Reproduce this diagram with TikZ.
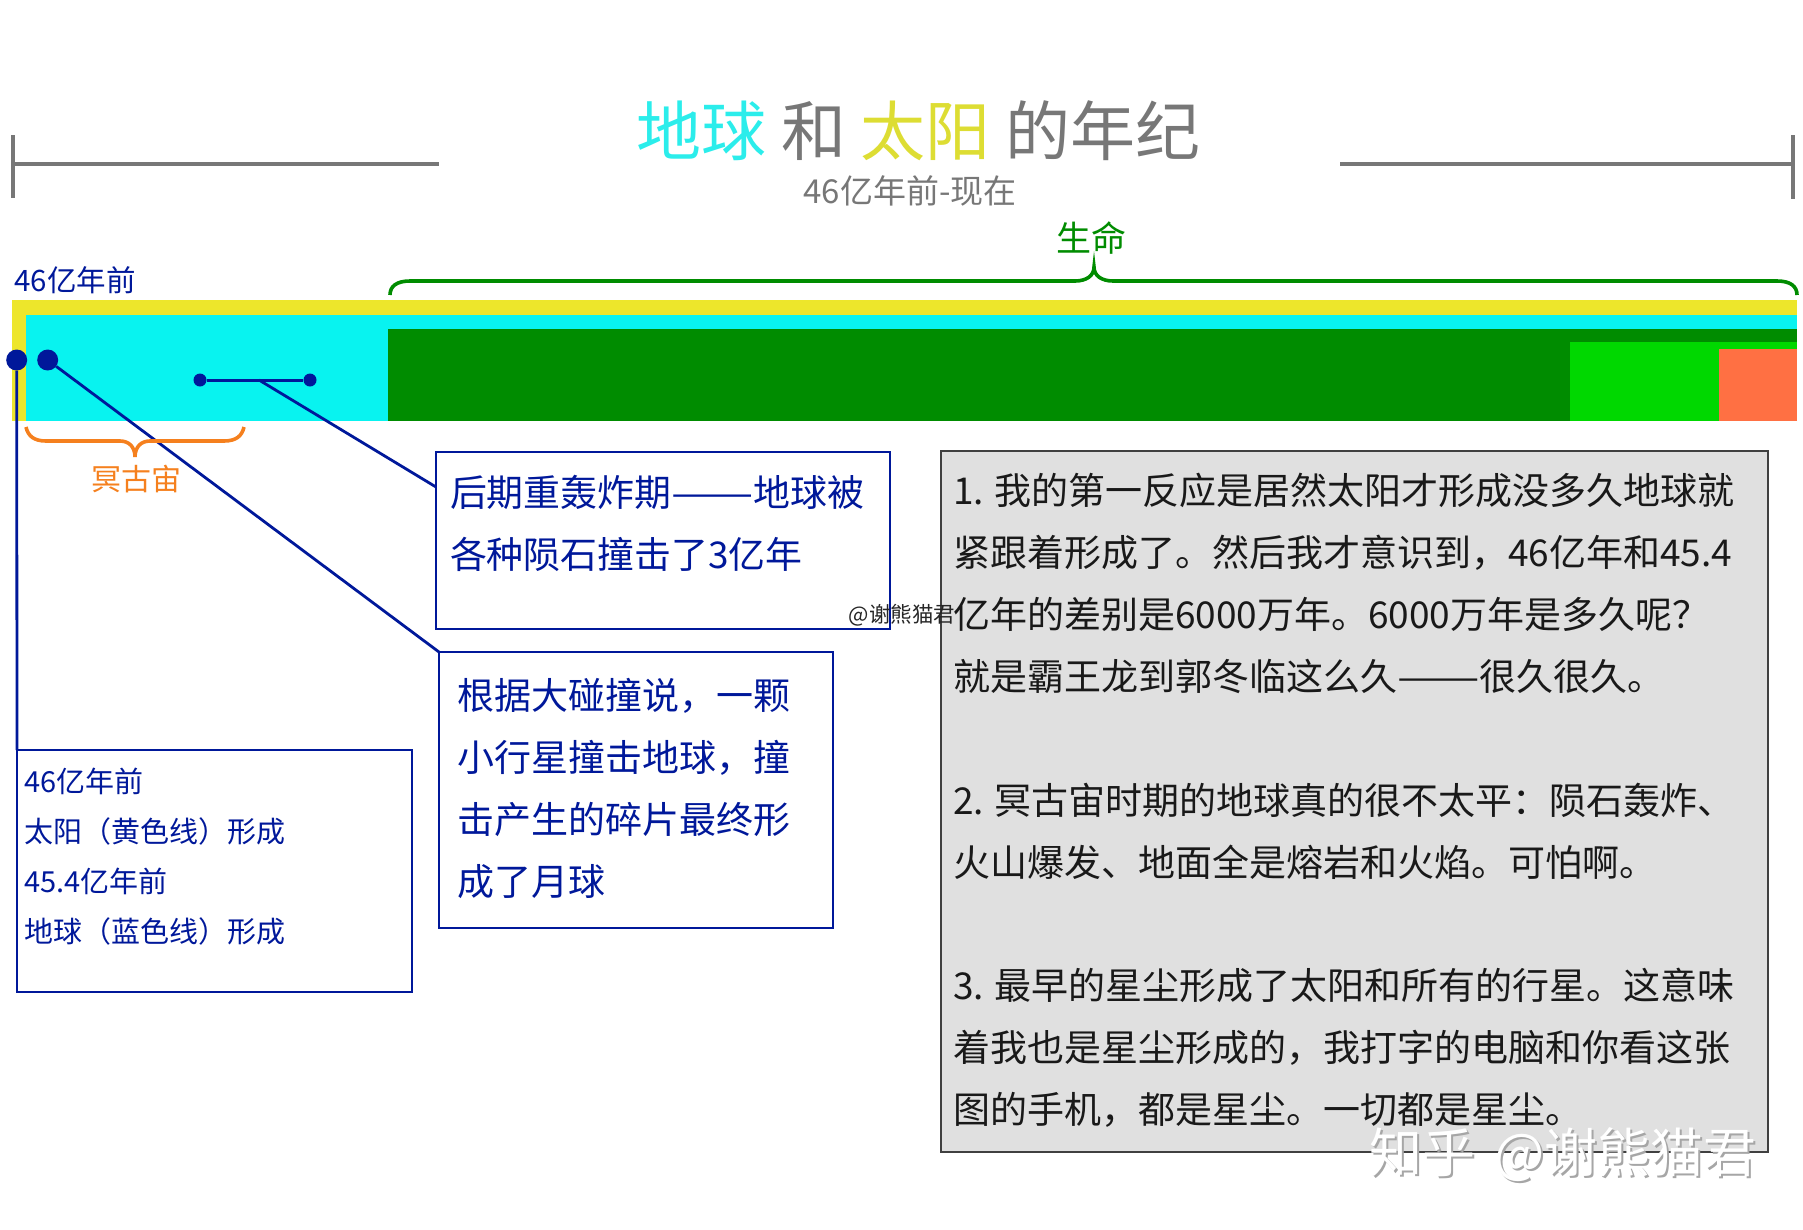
\documentclass[tikz,border=0pt]{standalone}
\usepackage{xcolor}
\usepackage{graphicx}
\usepackage{fontspec}
\setmainfont{Noto Sans CJK SC}
\definecolor{barYellow}{HTML}{EDE62B}
\definecolor{barCyan}{HTML}{08F3F0}
\definecolor{barGreen}{HTML}{008C00}
\definecolor{barLime}{HTML}{00D800}
\definecolor{barOrange}{HTML}{FF7043}
\definecolor{noteBlue}{HTML}{00189A}
\definecolor{braceOrange}{HTML}{F5801E}
\definecolor{ruleGray}{HTML}{777777}
\definecolor{titleCyan}{HTML}{2BEDEB}
\definecolor{titleYellow}{HTML}{DDDD33}
\definecolor{panelGray}{HTML}{E0E0E0}
\newcommand{\Fsize}[2]{\fontsize{#1}{#2}\selectfont}
\newcommand{\Ldash}{\scalebox{1.33}[1]{——}}
\newcommand{\Wmark}{知乎\hspace{8pt} @谢熊猫君}
\tikzset{
  notebox/.style={draw=noteBlue, line width=1.2pt, text=noteBlue, anchor=north west, align=left, outer sep=0pt, inner ysep=0pt},
  bigdot/.style={circle, fill=noteBlue, inner sep=0pt, minimum size=21pt},
  smalldot/.style={circle, fill=noteBlue, inner sep=0pt, minimum size=13pt},
  leader/.style={draw=noteBlue, line width=2.8pt},
  grayrule/.style={draw=ruleGray, line width=4.5pt},
}
\begin{document}
\begin{tikzpicture}[x=1pt, y=-1pt]
\useasboundingbox (0,0) rectangle (1803,1229);

% header
\node[font=\Fsize{65}{70}] (titleText) at (918.5,131) {\textcolor{titleCyan}{地球} \textcolor{ruleGray}{和} \textcolor{titleYellow}{太阳} \textcolor{ruleGray}{的年纪}};
\node[text=ruleGray, font=\Fsize{33}{36}] (subText) at (910,191) {46亿年前-现在};
\draw[grayrule] (13,135) -- (13,198);
\draw[grayrule] (13,164) -- (439,164);
\draw[grayrule] (1793,135) -- (1793,199);
\draw[grayrule] (1340,164) -- (1793,164);

% time bars
\fill[barYellow] (12,300) rectangle (1797,421);
\fill[barCyan] (26,315) rectangle (1797,421);
\fill[barGreen] (388,329) rectangle (1797,421);
\fill[barLime] (1570,342) rectangle (1797,421);
\fill[barOrange] (1719,349) rectangle (1797,421);

% notes
\node[notebox, font=\Fsize{36.9}{62}, inner xsep=14pt, text width=426pt, text height=54pt, text depth=123pt] (boxLate) at (436,452) {后期重轰炸期\Ldash 地球被\\各种陨石撞击了3亿年};
\node[notebox, font=\Fsize{37}{62}, inner xsep=18pt, text width=358pt, text height=57pt, text depth=219pt] (boxMoon) at (439,652) {根据大碰撞说，一颗\\小行星撞击地球，撞\\击产生的碎片最终形\\成了月球};
\node[notebox, font=\Fsize{29}{50}, inner xsep=7pt, text width=381pt, text height=42pt, text depth=200pt] (boxAge) at (17,750) {46亿年前\\太阳（黄色线）形成\\45.4亿年前\\地球（蓝色线）形成};
\node[draw=black!75, fill=panelGray, line width=1.6pt, text=black!90, font=\Fsize{37}{62}, anchor=north west, align=left, outer sep=0pt, inner ysep=0pt, inner xsep=12pt, text width=803pt, text height=53pt, text depth=648pt] (boxText) at (941,451) {1.\hspace{10.5pt}我的第一反应是居然太阳才形成没多久地球就\\紧跟着形成了。然后我才意识到，46亿年和45.4\\亿年的差别是6000万年。6000万年是多久呢？\\就是霸王龙到郭冬临这么久\Ldash 很久很久。\\[62pt]2.\hspace{10.5pt}冥古宙时期的地球真的很不太平：陨石轰炸、\\火山爆发、地面全是熔岩和火焰。可怕啊。\\[61pt]3.\hspace{10.5pt}最早的星尘形成了太阳和所有的行星。这意味\\着我也是星尘形成的，我打字的电脑和你看这张\\图的手机，都是星尘。一切都是星尘。};

% markers
\node[bigdot] (dotSun) at (16.7,360) {};
\node[bigdot] (dotEarth) at (47.7,360) {};
\node[smalldot] (dotBegin) at (200,380) {};
\node[smalldot] (dotEnd) at (310,380) {};
\coordinate (dotMid) at (259,380);
\coordinate (lateEnd) at (436,487);
\draw[leader] (dotSun) -- (boxAge.north west);
\draw[leader] (dotEarth) -- (boxMoon.north west);
\draw[leader, line width=3pt] (dotBegin) -- (dotEnd);
\draw[leader] (dotMid) -- (lateEnd);

% braces
\draw[barGreen, line width=3.6pt] (390,295) .. controls (390,286) and (397,281) .. (410,281) -- (1075,281) .. controls (1086,281) and (1094,276) .. (1094,267) .. controls (1094,276) and (1102,281) .. (1113,281) -- (1777,281) .. controls (1790,281) and (1797,286) .. (1797,295);
\draw[braceOrange, line width=3.6pt] (26,427) .. controls (28,436) and (34,441) .. (46,441) -- (120,441) .. controls (129,441) and (135,447) .. (135,457) .. controls (135,447) and (141,441) .. (150,441) -- (224,441) .. controls (236,441) and (242,436) .. (244,427);

% labels
\node[text=barGreen, font=\Fsize{35}{38}] (lifeLabel) at (1091,238) {生命};
\node[text=noteBlue, font=\Fsize{29.5}{34}] (startLabel) at (75,280) {46亿年前};
\node[text=braceOrange, font=\Fsize{30}{32}] (hadeanLabel) at (136,479) {冥古宙};
\node[text=black!85, font=\Fsize{21.5}{24}] (smallMark) at (902,615) {@谢熊猫君};

% watermark
\node[text=black!35, font=\Fsize{53}{60}] (wmShadow) at (1565,1157) {\Wmark};
\node[text=white, font=\Fsize{53}{60}] (wmFront) at (1563,1155) {\Wmark};
\end{tikzpicture}
\end{document}
